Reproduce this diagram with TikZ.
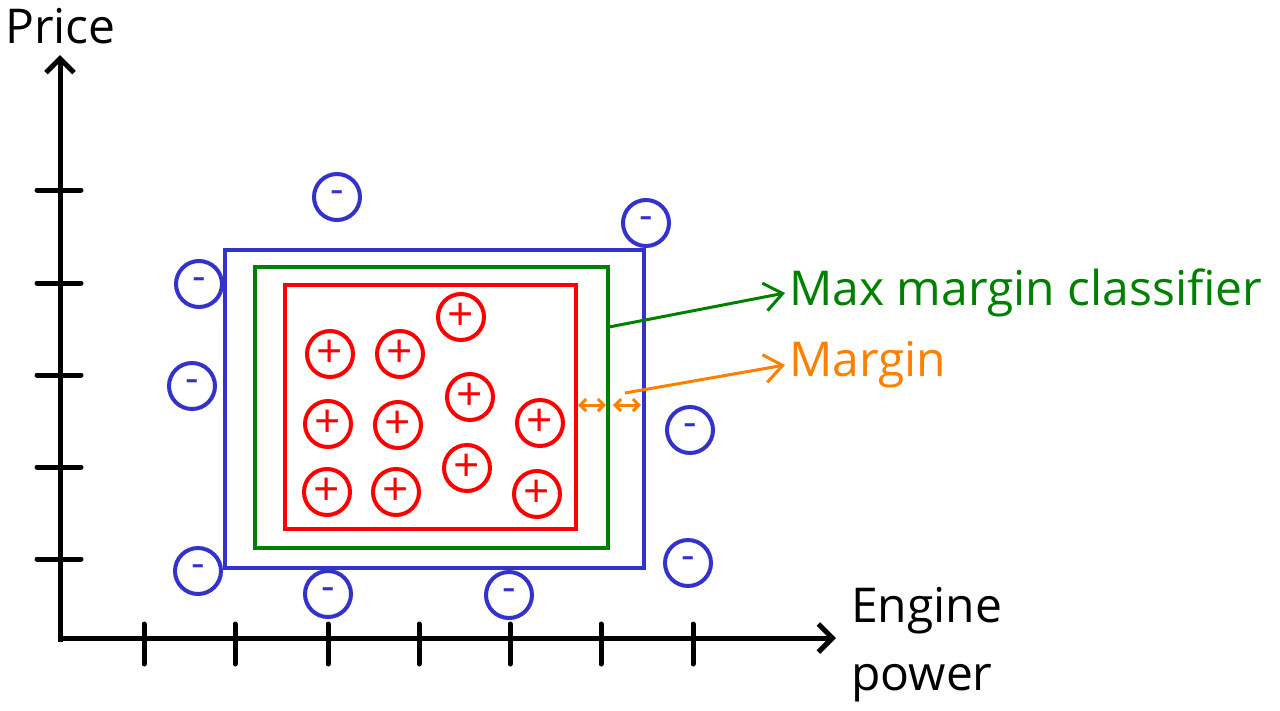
\documentclass[tikz,border=0pt]{standalone}
\usepackage{fontspec}
\setmainfont{Open Sans}
\usetikzlibrary{arrows.meta}
\definecolor{cblue}{HTML}{3333CC}
\definecolor{cred}{HTML}{FF0000}
\definecolor{cgreen}{HTML}{008000}
\definecolor{corange}{HTML}{FF8000}
\begin{document}
\begin{tikzpicture}[x=1pt,y=-1pt,
  axis/.style={line width=5pt,black,-{Straight Barb[length=14pt,width=28pt,line width=5pt]}},
  tick/.style={line width=5pt,black,line cap=round},
  negpt/.style={circle,draw=cblue,line width=4pt,minimum size=46pt,inner sep=0pt,text=cblue,font=\fontsize{42}{44}\selectfont},
  pospt/.style={circle,draw=cred,line width=4pt,minimum size=46pt,inner sep=0pt,text=cred,font=\fontsize{46}{48}\selectfont},
  lbl/.style={font=\fontsize{48}{56}\selectfont,inner sep=0pt},
  box/.style={line width=4pt},
  ptr/.style={line width=3pt,-{Straight Barb[length=18pt,width=28pt,line width=3pt]}},
  dbl/.style={line width=3pt,corange,{Straight Barb[length=6pt,width=12pt,line width=3pt]}-{Straight Barb[length=6pt,width=12pt,line width=3pt]}}
]
\useasboundingbox (0,0) rectangle (1280,710);
% axes
\coordinate (o) at (60,640);
\coordinate (ytip) at (60,55);
\coordinate (xtip) at (836,638);
\draw[axis] (60,642) -- (ytip);
\draw[axis] (58,638) -- (xtip);
\foreach \y in {190,283,375,467,559} \draw[tick] (37,\y) -- (81,\y);
\foreach \x in {144,235,328,419,510,601,693} \draw[tick] (\x,624) -- (\x,664);
\node[lbl,anchor=base west] (price) at (5,43) {Price};
\node[lbl,anchor=base west,align=left] (eng) at (851,622) {Engine};
\node[lbl,anchor=base west,align=left] (pow) at (851,690) {power};
% boxes
\draw[box,cblue] (225,250) rectangle (644,568);
\draw[box,cgreen] (255,267) rectangle (608,548);
\draw[box,cred] (285,285) rectangle (576,529);
% negatives
\foreach \p/\n in {{(337,197)}/n1,{(646,223)}/n2,{(199,284)}/n3,{(192,386)}/n4,{(690,430)}/n5,{(198,571)}/n6,{(688,563)}/n7,{(328,594)}/n8,{(509,595)}/n9}
  \node[negpt] (\n) at \p {-};
% positives
\foreach \p/\n in {{(461,317)}/p1,{(330,354)}/p2,{(400,354)}/p3,{(470,397)}/p4,{(328,424)}/p5,{(398,425)}/p6,{(540,423)}/p7,{(327,492)}/p8,{(396,492)}/p9,{(467,468)}/p10,{(537,494)}/p11}
  \node[pospt] (\n) at \p {+};
% labels
\node[lbl,anchor=west,text=cgreen] (mmc) at (789,293) {Max margin classifier};
\node[lbl,anchor=west,text=corange] (mar) at (789,365) {Margin};
\coordinate (gs) at (609,327);
\coordinate (os) at (625,393);
\draw[ptr,cgreen] (gs) -- ([xshift=-4pt]mmc.west);
\draw[ptr,corange] (os) -- ([xshift=-4pt]mar.west);
\coordinate (a1) at (578,405);
\coordinate (a2) at (606,405);
\coordinate (a3) at (613,405);
\coordinate (a4) at (641,405);
\draw[dbl] (a1) -- (a2);
\draw[dbl] (a3) -- (a4);
\end{tikzpicture}
\end{document}
